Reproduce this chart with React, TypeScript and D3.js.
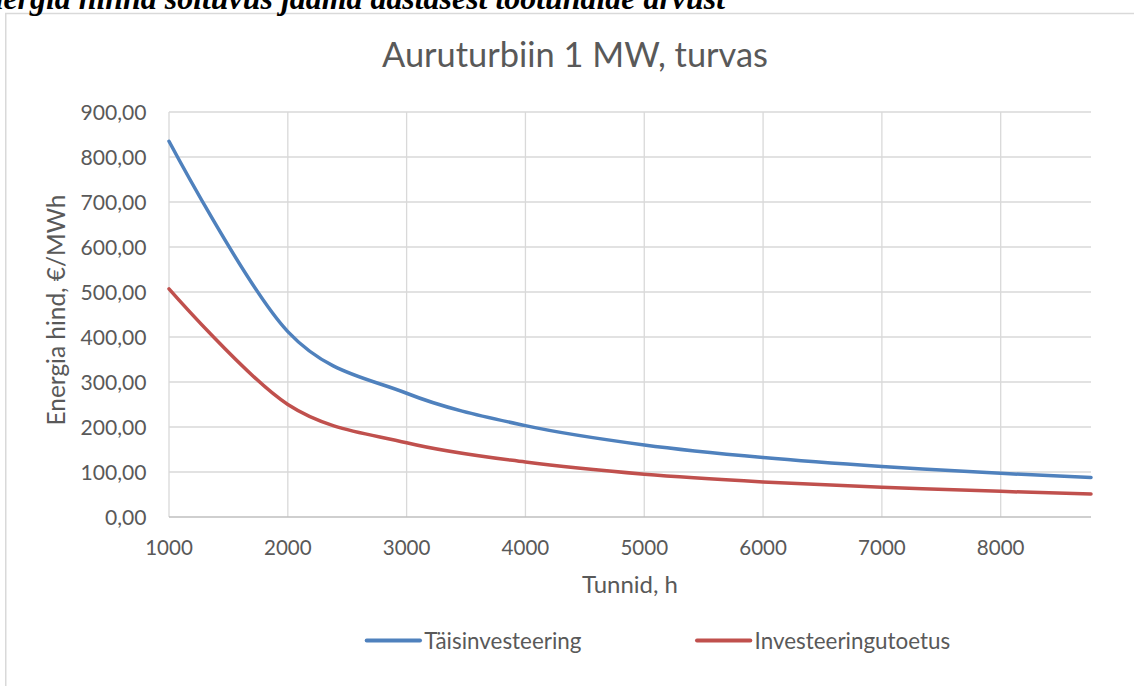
import React, { useEffect, useRef } from "react";
import * as d3 from "d3";

const hours = [1000, 2000, 3000, 4000, 5000, 6000, 7000, 8000, 8760];
const taisinvesteering = [835, 412, 275, 203, 160, 132, 112, 97, 88];
const investeeringutoetus = [507, 250, 165, 122, 95, 78, 66, 57, 51];
const xTicks = [1000, 2000, 3000, 4000, 5000, 6000, 7000, 8000];
const yTicks = [0, 100, 200, 300, 400, 500, 600, 700, 800, 900];
const seriesNames = ["Täisinvesteering", "Investeeringutoetus"];
const seriesColors = ["#4f81bd", "#c0504d"];
const chartTitle = "Auruturbiin 1 MW, turvas";
const xTitle = "Tunnid, h";
const yTitle = "Energia hind, €/MWh";
const captionText = "Energia hinna sõltuvus jaama aastasest töötundide arvust";

const W = 1134;
const H = 686;
const FONT = "Lato, 'Noto Sans', sans-serif";
const TXT = "#595959";

// fit groups: class name -> [target width in px, index of reference element, skip chars]
const fitGroups: [string, number, number][] = [
  ["fit-ytick", 66, 0],
  ["fit-xtick", 47.7, 0],
  ["fit-title", 386, 0],
  ["fit-ytitle", 231, 0],
  ["fit-xtitle", 96, 0],
  ["fit-legend", 157.3, 0],
  ["fit-caption", 722, 2],
];

export default function App() {
  const ref = useRef<SVGSVGElement>(null);
  const x = d3.scaleLinear().domain([1000, 8760]).range([169, 1091]);
  const y = d3.scaleLinear().domain([0, 900]).range([517, 112]);
  const line = d3
    .line<number>()
    .x((_, i) => x(hours[i]))
    .y((d) => y(d))
    .curve(d3.curveCardinal.tension(0));
  const series = [taisinvesteering, investeeringutoetus];
  const fmt = (v: number) => v.toFixed(2).replace(".", ",");

  useEffect(() => {
    if (!ref.current) return;
    const svg = d3.select(ref.current);
    fitGroups.forEach(([cls, target, skip]) => {
      const nodes = svg.selectAll<SVGTextElement, unknown>("." + cls).nodes();
      if (!nodes.length) return;
      const refNode = nodes.find((n) => n.getAttribute("data-ref") === "1") || nodes[0];
      const fs = parseFloat(refNode.getAttribute("font-size") || "20");
      let w = 0;
      const n = refNode.getNumberOfChars();
      if (skip > 0) w = refNode.getSubStringLength(skip, n - skip);
      else w = refNode.getComputedTextLength();
      if (w > 0) {
        const nf = (fs * target) / w;
        nodes.forEach((nd) => nd.setAttribute("font-size", String(nf)));
      }
    });
  }, []);

  return (
    <svg
      ref={ref}
      width={W}
      height={H}
      style={{ position: "absolute", left: 0, top: 0, background: "#fff" }}
    >
      <rect x={0} y={0} width={W} height={H} fill="#fff" />
      <rect
        x={5.75}
        y={13.5}
        width={1400}
        height={1000}
        fill="#fff"
        stroke="#d9d9d9"
        strokeWidth={1.5}
      />
      <text
        className="fit-caption"
        x={725}
        y={8.5}
        textAnchor="end"
        fontFamily="'Liberation Serif', 'Times New Roman', serif"
        fontWeight="bold"
        fontStyle="italic"
        fontSize={32}
        fill="#000"
      >
        {captionText}
      </text>

      {/* gridlines */}
      {yTicks.slice(1).map((t) => (
        <line
          key={"gy" + t}
          x1={x(1000)}
          x2={x(8760)}
          y1={y(t)}
          y2={y(t)}
          stroke="#d9d9d9"
          strokeWidth={1.3}
        />
      ))}
      {xTicks.map((t) => (
        <line
          key={"gx" + t}
          x1={x(t)}
          x2={x(t)}
          y1={y(900)}
          y2={y(0)}
          stroke="#d9d9d9"
          strokeWidth={1.3}
        />
      ))}
      <line
        x1={x(1000)}
        x2={x(8760)}
        y1={y(0)}
        y2={y(0)}
        stroke="#bfbfbf"
        strokeWidth={1.3}
      />

      {/* y tick labels */}
      {yTicks.map((t) => (
        <text
          key={"ty" + t}
          className="fit-ytick"
          data-ref={t === 800 ? "1" : "0"}
          x={146.5}
          y={y(t)}
          dy="0.36em"
          textAnchor="end"
          fontFamily={FONT}
          fontSize={21}
          fill={TXT}
        >
          {fmt(t)}
        </text>
      ))}
      {/* x tick labels */}
      {xTicks.map((t) => (
        <text
          key={"tx" + t}
          className="fit-xtick"
          data-ref={t === 1000 ? "1" : "0"}
          x={x(t)}
          y={555}
          textAnchor="middle"
          fontFamily={FONT}
          fontSize={21}
          fill={TXT}
        >
          {t}
        </text>
      ))}

      {/* series */}
      {series.map((s, i) => (
        <path
          key={"s" + i}
          d={line(s) || ""}
          fill="none"
          stroke={seriesColors[i]}
          strokeWidth={3.5}
          strokeLinecap="round"
        />
      ))}

      {/* titles */}
      <text
        className="fit-title"
        x={575}
        y={66.7}
        textAnchor="middle"
        fontFamily={FONT}
        fontSize={31}
        fill={TXT}
      >
        {chartTitle}
      </text>
      <text
        className="fit-xtitle"
        x={630}
        y={593}
        textAnchor="middle"
        fontFamily={FONT}
        fontSize={22}
        fill={TXT}
      >
        {xTitle}
      </text>
      <text
        className="fit-ytitle"
        transform={`translate(65,310) rotate(-90)`}
        textAnchor="middle"
        fontFamily={FONT}
        fontSize={22}
        fill={TXT}
      >
        {yTitle}
      </text>

      {/* legend */}
      {seriesNames.map((n, i) => {
        const lx = [366.7, 697][i];
        return (
          <g key={"l" + i}>
            <line
              x1={lx}
              x2={lx + 53.3}
              y1={640.5}
              y2={640.5}
              stroke={seriesColors[i]}
              strokeWidth={4}
              strokeLinecap="round"
            />
            <text
              className="fit-legend"
              data-ref={i === 0 ? "1" : "0"}
              x={lx + 57.6}
              y={648.7}
              fontFamily={FONT}
              fontSize={20.5}
              fill={TXT}
            >
              {n}
            </text>
          </g>
        );
      })}
    </svg>
  );
}
